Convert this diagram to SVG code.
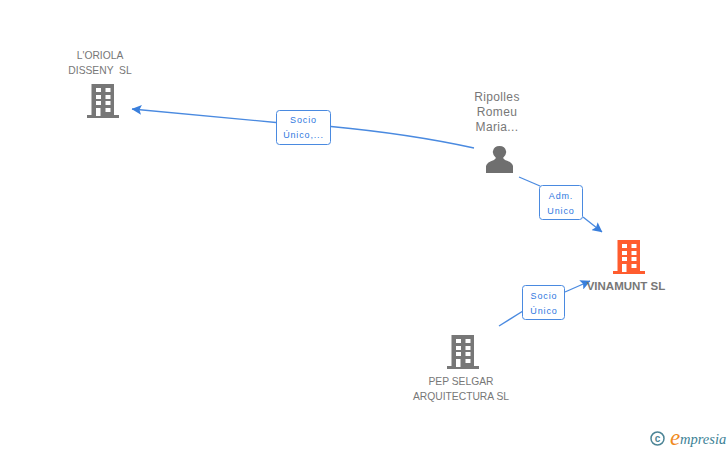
<svg xmlns="http://www.w3.org/2000/svg" width="728" height="450" viewBox="0 0 728 450">
<style>
.lbl{font-family:"Liberation Sans",Arial,sans-serif;font-size:10.3px;fill:#777;text-anchor:middle}
.big{font-size:12px;letter-spacing:.35px}
.el{font-family:"Liberation Sans",Arial,sans-serif;font-size:9px;fill:#2f78e0;text-anchor:middle;letter-spacing:.85px}
.box{fill:#fff;stroke:#4a8ae0;stroke-width:1}
.c{fill:none;stroke:#4a8ae0;stroke-width:1.3}
.win{fill:#fff}
</style>
<defs>
<marker id="a" viewBox="0 0 10 10" refX="9.500" refY="5" markerWidth="10" markerHeight="10" markerUnits="userSpaceOnUse" orient="auto"><path d="M0 0L10 5L0 10L2 5Z" fill="#3a7fdc"/></marker>
<g id="b">
<rect x="-11.500" y="0" width="22.500" height="32"/><rect x="-16" y="31" width="32" height="3"/>
<g class="win"><rect x="-7" y="4" width="5" height="4"/><rect x="2.500" y="4" width="5" height="4"/><rect x="-7" y="11" width="5" height="4"/><rect x="2.500" y="11" width="5" height="4"/><rect x="-7" y="17" width="5" height="4"/><rect x="2.500" y="17" width="5" height="4"/><rect x="-7" y="24" width="4.500" height="8"/><rect x="2.500" y="24" width="5" height="4"/></g>
</g>
</defs>
<g id="connectors">
<path class="c" d="M276 122.500L132 109" marker-end="url(#a)"/>
<path class="c" d="M474 148Q410 134 331 126.500"/>
<path class="c" d="M519 177L540 186"/>
<path class="c" d="M583 217L602 232" marker-end="url(#a)"/>
<path class="c" d="M499 326L523 311"/>
<path class="c" d="M565 292L590 281" marker-end="url(#a)"/>
</g>
<g id="edge1"><rect class="box" x="276.500" y="110.500" width="54" height="34" rx="3"/><text class="el" x="303.500" y="122.500">Socio</text><text class="el" x="303.500" y="138">Único,...</text></g>
<g id="edge2"><rect class="box" x="539.500" y="185.500" width="43" height="34" rx="3"/><text class="el" x="561" y="199">Adm.</text><text class="el" x="561" y="213.500">Unico</text></g>
<g id="edge3"><rect class="box" x="522.500" y="285.500" width="42" height="34" rx="3"/><text class="el" x="544" y="298.500">Socio</text><text class="el" x="544" y="313.500">Único</text></g>
<g id="node-loriola"><text class="lbl" x="100" y="59">L'ORIOLA</text><text class="lbl" x="100" y="74" xml:space="preserve">DISSENY  SL</text><use href="#b" x="103" y="84" fill="#777"/></g>
<g id="node-ripolles"><text class="lbl big" x="497" y="101">Ripolles</text><text class="lbl big" x="497" y="116">Romeu</text><text class="lbl big" x="497" y="131">Maria...</text>
<path fill="#6f6f6f" d="M486 173L486 166Q487 162 494 160L496 158Q492 154 493 151Q494 146 499.500 146Q505 146 506 151Q507 154 503 158L505 160Q512 162 513 166L513 173Z"/></g>
<g id="node-vinamunt"><use href="#b" x="629" y="240" fill="#ff5c2e"/><text class="lbl" x="626" y="290" style="font-size:11.500px;font-weight:bold;fill:#777">VINAMUNT SL</text></g>
<g id="node-pep"><use href="#b" x="463" y="335" fill="#777"/><text class="lbl" x="461" y="385">PEP SELGAR</text><text class="lbl" x="461" y="400">ARQUITECTURA SL</text></g>
<g id="logo"><circle cx="657.500" cy="438.500" r="6.500" fill="none" stroke="#4d8596" stroke-width="1.500"/><text x="657.500" y="442" style="font-family:'Liberation Sans',sans-serif;font-size:10px;font-weight:bold;fill:#4d8596;text-anchor:middle">c</text><text x="670" y="445" style="font-family:'Liberation Serif',serif;font-size:23px;font-style:italic;fill:#f08a1d">e</text><text x="680" y="444" style="font-family:'Liberation Serif',serif;font-size:14.500px;font-style:italic;fill:#3c8296">mpresia</text></g>
</svg>
